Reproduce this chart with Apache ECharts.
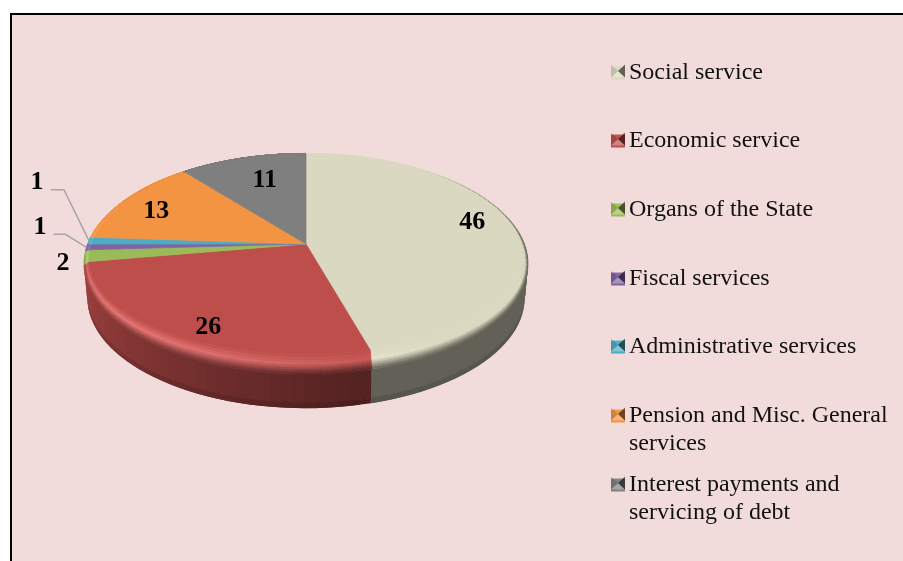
<!DOCTYPE html>
<html><head><meta charset="utf-8">
<style>html,body{margin:0;padding:0;background:#fff}#c{width:903px;height:561px}</style>
<script src="https://cdn.jsdelivr.net/npm/echarts@6/dist/echarts.min.js"></script>
</head><body><div id="c"></div>
<script>
const categories = ['Social service','Economic service','Organs of the State','Fiscal services','Administrative services','Pension and Misc. General services','Interest payments and servicing of debt'];
const legendLines = ['Social service','Economic service','Organs of the State','Fiscal services','Administrative services','\nPension and Misc. General\nservices','\nInterest payments and\nservicing of debt'];
const values = [46,26,2,1,1,13,11];
const colors = ['#dbd8c2','#bd4e4c','#9bbb59','#8064a2','#4bacc6','#f39443','#7f7f7f'];
const legendRows = [71,139,208,277,345,414,483];
const labelOffsets = [[17,-12],[-6,12.5],[-89,10],[-112.6,-19.5],[-116.8,-59.5],[-21,-1],[5,-1]];
const leaderOffsets = [null,null,null,[[-21,-13],[-33,-13]],[[-25,-51],[-38,-51]],null,null];

// projective view of the disc
const CX=306,CY=264.5,A=218.4,B=110.5,C=-20.5,K=-0.18,DEPTH=34;
const total = values.reduce((a,b)=>a+b,0);
const cum = values.reduce((acc,v)=>{acc.push(acc[acc.length-1]+v);return acc;},[0]);
const ang = p => p/total*Math.PI*2;
function P(r,t){const u=r*Math.sin(t),v=-r*Math.cos(t),d=1+K*v;return [CX+A*u/d,CY+(B*v+C)/d];}
function F(p){const ax=CY+C;
  const sx=1-0.022*Math.min(1,Math.max(0,(p[1]-153)/111));
  const y=p[1]<ax?p[1]:ax+(p[1]-ax)*(111/131);
  return [CX+(p[0]-CX)*sx,y];}
function lerp(a,b,t){return [a[0]+(b[0]-a[0])*t,a[1]+(b[1]-a[1])*t];}
function rgb(h){return [1,3,5].map(i=>parseInt(h.substr(i,2),16));}
function css(c){return 'rgb('+c.map(x=>Math.max(0,Math.min(255,Math.round(x)))).join(',')+')';}
function mix(a,b,t){return a.map((x,i)=>x+(b[i]-x)*t);}
function sideFactor(t){const d=t*180/Math.PI;
  if(d<40)return 1;
  if(d<90)return 1-0.55*(d-40)/50;
  if(d<170)return 0.45;
  if(d<265)return 0.45+0.42*(d-170)/95;
  return 0.97;}
function highlight(t){const d=t-225*Math.PI/180;const c=Math.max(0,Math.cos(d));return c*c;}
function poly(points,fill,z2){return {type:'polygon',shape:{points},z2:z2,silent:true,
  style:{fill,stroke:fill,lineWidth:0.7}};}
function solid(points,fill,z2){return {type:'polygon',shape:{points},z2:z2,silent:true,style:{fill,stroke:null}};}

function renderSlice(params,api){
  const i=params.seriesIndex, base=rgb(colors[i]);
  const a0=ang(cum[i]), a1=a0+ang(api.value(0));
  const n=Math.max(2,Math.ceil((a1-a0)/(2.5*Math.PI/180)));
  const kids=[];
  const th=k=>a0+(a1-a0)*k/n;
  // side wall: quads overlap the next step so no seams show; darker foot below
  for(let k=0;k<n;k++){
    const t0=th(k),t1=th(Math.min(n,k+2)),tm=(th(k)+th(k+1))/2,d=tm*180/Math.PI;
    if(d<80||d>259)continue;
    const p0=P(1,t0),p1=P(1,t1);
    const low=(p,s)=>[CX+(p[0]-CX)*(1-0.015*s),p[1]+DEPTH*s];
    const f=sideFactor(tm);
    kids.push(solid([p0,p1,low(p1,0.85),low(p0,0.85)],css(base.map(x=>x*f)),1));
    kids.push(solid([low(p0,0.84),low(p1,0.84),low(p1,1),low(p0,1)],css(base.map(x=>x*f*0.88)),1));
  }
  // flat top face
  const pts=[[CX,CY+C]];
  for(let k=0;k<=n;k++)pts.push(F(P(1,th(k))));
  kids.push(poly(pts,colors[i],5));
  // bevel between flat face and rim
  const bands=[0,0.15,0.3,0.42,0.54,0.66,0.78,0.9,1];
  for(let k=0;k<n;k++){
    const t0=th(k),t1=th(k+1),tm=(t0+t1)/2;
    const r0=P(1,t0),r1=P(1,t1),f0=F(r0),f1=F(r1);
    const h=highlight(tm),sf=sideFactor(tm);
    const peak=base.map(x=>x+h*0.15*255);
    const edge=base.map(x=>x*sf);
    for(let b=0;b<bands.length-1;b++){
      const s=bands[b],e=bands[b+1],m=(s+e)/2;
      const col=m<0.5?mix(base,peak,m/0.5):mix(peak,edge,(m-0.5)/0.5);
      kids.push(poly([lerp(f0,r0,s),lerp(f1,r1,s),lerp(f1,r1,e),lerp(f0,r0,e)],css(col),6));
    }
  }
  // value label and leader
  const mid=(a0+a1)/2, at=P(0.7,mid), off=labelOffsets[i];
  if(leaderOffsets[i]){
    const rim=P(1,mid),lo=leaderOffsets[i];
    kids.push({type:'polyline',silent:true,z2:20,shape:{points:[rim,[rim[0]+lo[0][0],rim[1]+lo[0][1]],[rim[0]+lo[1][0],rim[1]+lo[1][1]]]},
      style:{stroke:'#a6a6a6',lineWidth:1.5,fill:null}});
  }
  kids.push({type:'text',silent:true,z2:30,x:at[0]+off[0],y:at[1]+off[1],
    style:{text:String(api.value(0)),fill:'#000',font:'bold 26px "Liberation Serif"',align:'center',verticalAlign:'middle'}});
  return {type:'group',children:kids};
}

const series=categories.map((name,i)=>({type:'custom',name,coordinateSystem:'none',
  itemStyle:{color:colors[i]},data:[[values[i]]],renderItem:renderSlice,silent:true,animation:false}));

const legend=categories.map((name,i)=>{
  const blank=legendLines[i].startsWith('\n');
  return {data:[{name,icon:'rect'}],show:true,orient:'vertical',left:611,top:legendRows[i]-(blank?40:12),padding:0,
    itemWidth:14,itemHeight:13,selectedMode:false,
    formatter:()=>legendLines[i],
    textStyle:{fontFamily:'"Liberation Serif"',fontSize:24,color:'#111',lineHeight:28,padding:[0,0,0,-1]}};
});

const iconOverlays=[];
legendRows.forEach(y=>{
  const x0=611,x1=625,y0=y-6.5,y1=y+6.5,mx=618,my=y;
  const tri=(pts,fill)=>iconOverlays.push({type:'polygon',z:100,silent:true,shape:{points:pts},style:{fill}});
  tri([[x0,y0],[x1,y0],[mx,my]],'rgba(255,255,255,0.05)');
  tri([[x0,y1],[x1,y1],[mx,my]],'rgba(255,255,255,0.3)');
  tri([[x0,y0],[x0,y1],[mx,my]],'rgba(0,0,0,0.12)');
  tri([[x1,y0],[x1,y1],[mx,my]],'rgba(0,0,0,0.55)');
});

const chart=echarts.init(document.getElementById('c'),null,{renderer:'canvas'});
chart.setOption({
  animation:false,backgroundColor:'#fff',
  graphic:[{type:'rect',z:-10,silent:true,shape:{x:11,y:14,width:930,height:600},
    style:{fill:'#f2dcdb',stroke:'#000',lineWidth:2}},...iconOverlays],
  legend,series
});
</script></body></html>
